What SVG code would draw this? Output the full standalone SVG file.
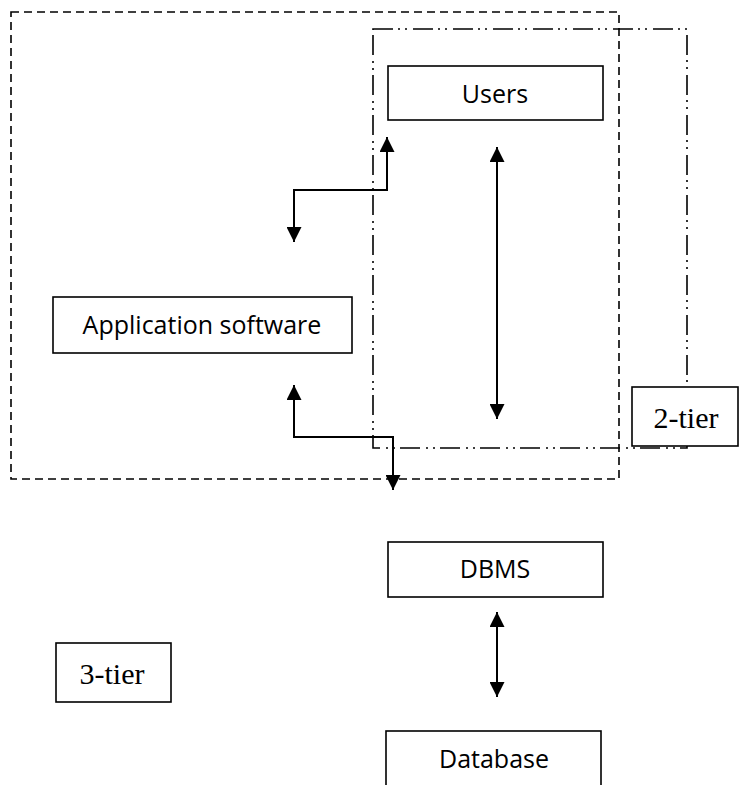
<svg xmlns="http://www.w3.org/2000/svg" width="739" height="785" viewBox="0 0 739 785">
<style>
.box{fill:#fff;stroke:#000;stroke-width:1.6}
.lbl{font-family:"Open Sans","Liberation Sans",sans-serif;font-size:25px;fill:#000;text-anchor:middle}
.tier{font-family:"Liberation Serif","Times New Roman",serif;font-size:30px;fill:#000;text-anchor:middle}
.dash{fill:none;stroke:#000;stroke-width:1.6;stroke-dasharray:8 5}
.dashdot{fill:none;stroke:#000;stroke-width:1.6;stroke-dasharray:20 5 2 5 2 6}
.conn{fill:none;stroke:#000;stroke-width:2}
</style>
<defs>
<marker id="ah" viewBox="0 0 10 10" refX="10" refY="5" markerWidth="15" markerHeight="15" markerUnits="userSpaceOnUse" orient="auto-start-reverse">
<path d="M0,0 L10,5 L0,10 z" fill="#000"/>
</marker>
</defs>
<g id="boundaries">
<rect class="dash" x="11" y="12" width="608" height="467"/>
<rect class="dashdot" x="373" y="29" width="314" height="419"/>
</g>
<g id="connectors">
<path class="conn" d="M387,137 L387,190 L294,190 L294,242" marker-start="url(#ah)" marker-end="url(#ah)"/>
<path class="conn" d="M294,385 L294,437 L393,437 L393,490" marker-start="url(#ah)" marker-end="url(#ah)"/>
<path class="conn" d="M497,147 L497,419" marker-start="url(#ah)" marker-end="url(#ah)"/>
<path class="conn" d="M497,612 L497,697" marker-start="url(#ah)" marker-end="url(#ah)"/>
</g>
<g id="users">
<rect class="box" x="388" y="66" width="215" height="54"/>
<text class="lbl" x="495" y="103">Users</text>
</g>
<g id="app">
<rect class="box" x="53" y="297" width="299" height="56"/>
<text class="lbl" x="202" y="334">Application software</text>
</g>
<g id="tier2">
<rect class="box" x="632" y="387" width="106" height="59"/>
<text class="tier" x="686" y="428">2-tier</text>
</g>
<g id="dbms">
<rect class="box" x="388" y="542" width="215" height="55"/>
<text class="lbl" x="495" y="578">DBMS</text>
</g>
<g id="tier3">
<rect class="box" x="56" y="643" width="115" height="59"/>
<text class="tier" x="112" y="684">3-tier</text>
</g>
<g id="database">
<rect class="box" x="386" y="731" width="215" height="70"/>
<text class="lbl" x="494" y="768">Database</text>
</g>
</svg>
